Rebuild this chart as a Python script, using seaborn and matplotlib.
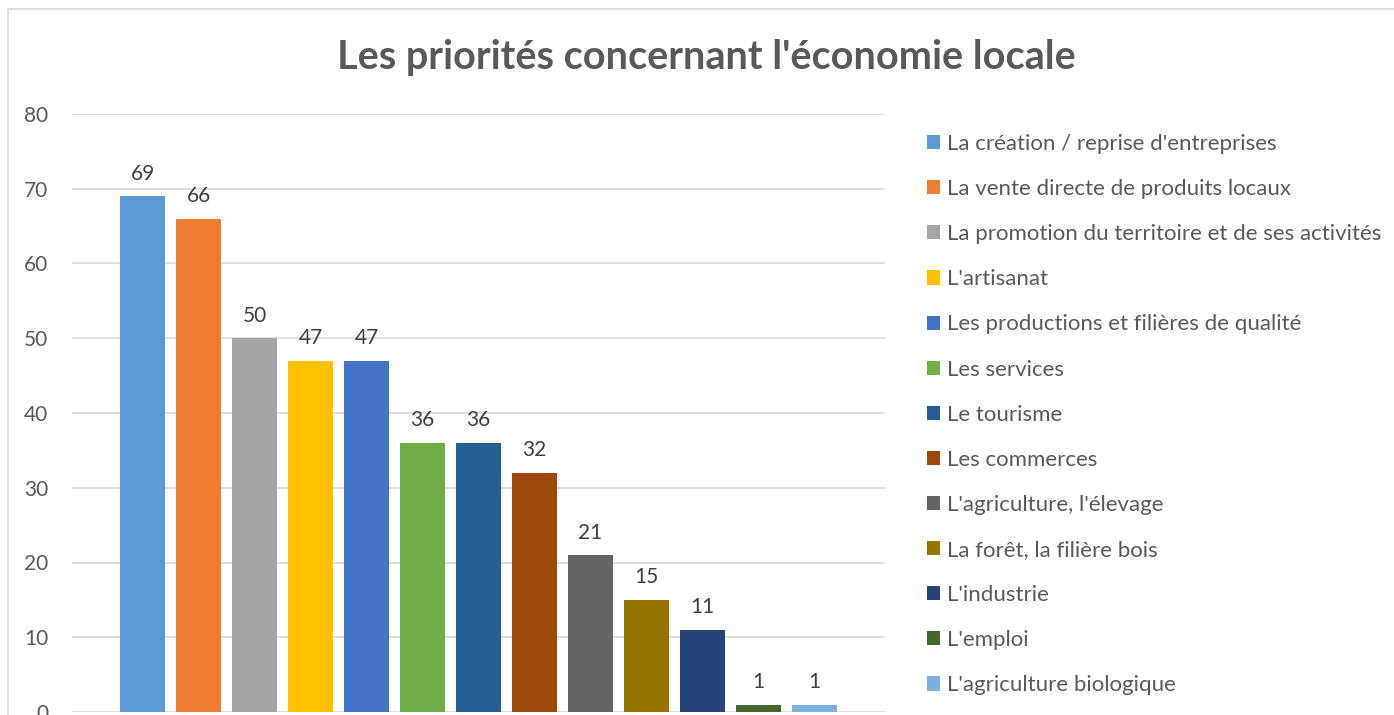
import matplotlib
matplotlib.use("Agg")
import matplotlib.pyplot as plt
import matplotlib.patches as patches
import pandas as pd
import seaborn as sns

categories = [
    "La création / reprise d'entreprises",
    "La vente directe de produits locaux",
    "La promotion du territoire et de ses activités",
    "L'artisanat",
    "Les productions et filières de qualité",
    "Les services",
    "Le tourisme",
    "Les commerces",
    "L'agriculture, l'élevage",
    "La forêt, la filière bois",
    "L'industrie",
    "L'emploi",
    "L'agriculture biologique",
]
values = [69, 66, 50, 47, 47, 36, 36, 32, 21, 15, 11, 1, 1]
colors = [
    "#5B9BD5", "#ED7D31", "#A5A5A5", "#FFC000", "#4472C4", "#70AD47",
    "#255E91", "#9E480E", "#636363", "#997300", "#264478", "#43682B", "#7CAFDD",
]
y_ticks = [0, 10, 20, 30, 40, 50, 60, 70, 80]

df = pd.DataFrame({"Priorité": categories, "Nombre": values})

sns.set_style("white")
plt.rcParams["font.family"] = ["Lato", "DejaVu Sans"]

W, H = 1394, 715
fig = plt.figure(figsize=(W / 100, H / 100), dpi=100)

# cadre du graphique (façon Excel)
fig.patches.append(patches.Rectangle((8 / W, -0.1), 1.2, 1 - 9 / H + 0.1,
                                     transform=fig.transFigure, fill=False,
                                     edgecolor="#D9D9D9", linewidth=1.2))

ax = fig.add_axes([72 / W, 1 - 712 / H, (885 - 72) / W, (712 - 114) / H])

sns.barplot(data=df, x="Priorité", y="Nombre", hue="Priorité",
            palette=colors, dodge=False, width=0.8, ax=ax, legend=True,
            saturation=1, linewidth=0)

for c in ax.containers:
    ax.bar_label(c, padding=9, fontsize=15, color="#404040")

ax.set_xlim(6 - 7.26, 6 + 7.26)
ax.set_ylim(0, 80)
ax.set_yticks(y_ticks)
ax.set_xticks([])
ax.set_xlabel("")
ax.set_ylabel("")
ax.tick_params(axis="y", length=0, pad=17, labelsize=15, labelcolor="#595959")
ax.yaxis.grid(True, color="#D9D9D9", linewidth=1.2)
ax.set_axisbelow(True)
for s in ax.spines.values():
    s.set_visible(False)

handles, labels = ax.get_legend_handles_labels()
ax.get_legend().remove()
fig.legend(handles, labels, loc="upper left",
           bbox_to_anchor=(927 / W, 1 - 134 / H), frameon=False,
           fontsize=16, labelcolor="#595959", handlelength=0.6,
           handleheight=0.6, handletextpad=0.28, labelspacing=1.13,
           borderpad=0, borderaxespad=0)

fig.text(706 / W, 1 - 57 / H, "Les priorités concernant l'économie locale",
         ha="center", va="center", fontsize=28.5, fontweight="bold",
         color="#595959")

fig.savefig("out.png", dpi=100)
